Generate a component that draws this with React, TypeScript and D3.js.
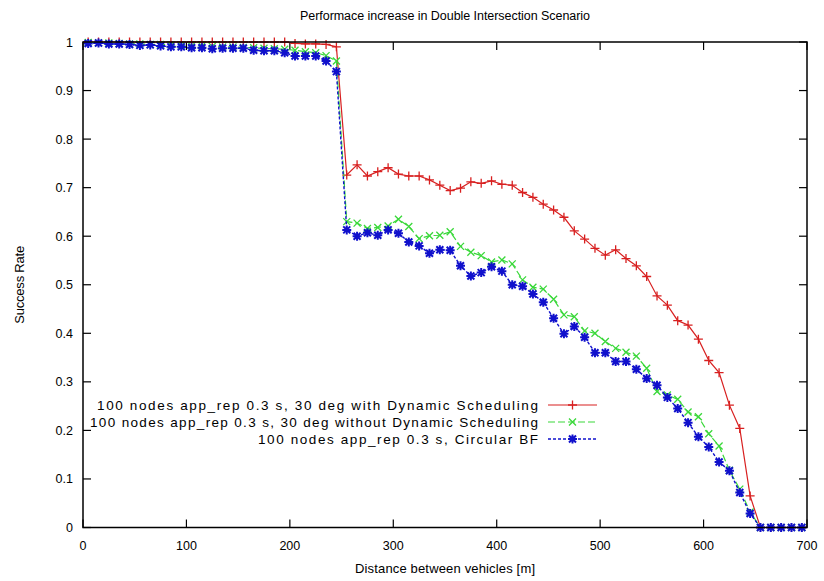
import React from "react";
import * as d3 from "d3";

const distance = [5,15,25,35,45,55,65,75,85,95,105,115,125,135,145,155,165,175,185,195,205,215,225,235,245,255,265,275,285,295,305,315,325,335,345,355,365,375,385,395,405,415,425,435,445,455,465,475,485,495,505,515,525,535,545,555,565,575,585,595,605,615,625,635,645,655,665,675,685,695];

const withDynamic = [1,1,1,1,1,1,1,1,1,1,1,1,1,1,1,1,1,1,1,1,0.997,0.996,0.996,0.995,0.99,
0.726,0.747,0.724,0.733,0.741,0.728,0.724,0.724,0.716,0.705,
0.694,0.699,0.712,0.709,0.714,0.707,0.705,0.69,0.68,0.666,
0.654,0.639,0.611,0.594,0.575,0.561,0.572,0.554,0.539,0.517,
0.477,0.458,0.426,0.417,0.388,0.344,0.319,0.252,0.204,0.065,
0,0,0,0,0];

const withoutDynamic = [0.999,0.998,0.998,0.997,0.996,0.996,0.995,0.995,0.994,0.993,0.992,0.992,0.991,0.99,0.99,0.989,0.988,0.987,0.986,0.985,0.983,0.98,0.978,0.972,0.961,
0.63,0.627,0.616,0.618,0.621,0.635,0.62,0.595,0.601,0.602,
0.609,0.579,0.567,0.56,0.547,0.551,0.543,0.51,0.495,0.491,
0.47,0.438,0.434,0.405,0.4,0.383,0.369,0.361,0.353,0.328,
0.28,0.273,0.264,0.238,0.228,0.193,0.168,0.118,0.079,0.032,
0,0,0,0,0];

const circularBF = [0.997,0.998,0.996,0.996,0.995,0.993,0.994,0.992,0.99,0.99,0.988,0.988,0.986,0.987,0.987,0.987,0.983,0.982,0.982,0.978,0.971,0.971,0.971,0.961,0.939,
0.613,0.6,0.607,0.602,0.613,0.606,0.588,0.58,0.565,0.572,
0.571,0.539,0.518,0.525,0.537,0.528,0.5,0.497,0.481,0.464,
0.431,0.399,0.414,0.392,0.36,0.36,0.342,0.342,0.326,0.307,
0.293,0.268,0.245,0.216,0.187,0.166,0.135,0.117,0.072,0.029,
0,0,0,0,0];

const xTicks = [0,100,200,300,400,500,600,700];
const yTicks = [0,0.1,0.2,0.3,0.4,0.5,0.6,0.7,0.8,0.9,1];
const yTickLabels = ["0","0.1","0.2","0.3","0.4","0.5","0.6","0.7","0.8","0.9","1"];

const seriesNames = [
  "100 nodes app_rep 0.3 s, 30 deg with Dynamic Scheduling",
  "100 nodes app_rep 0.3 s, 30 deg without Dynamic Scheduling",
  "100 nodes app_rep 0.3 s, Circular BF",
];

const W = 824, H = 581;
const L = 83, R = 807, T = 42, B = 527.5;
const FONT = "'Liberation Sans', Arial, Helvetica, sans-serif";

const plusPath = "M-4.5,0H4.5M0,-4.5V4.5";
const crossPath = "M-3.5,-3.5L3.5,3.5M-3.5,3.5L3.5,-3.5";
const starPath = "M-4.5,0H4.5M0,-4.5V4.5M-3.5,-3.5L3.5,3.5M-3.5,3.5L3.5,-3.5";

const styles = [
  { color: "#d82020", dash: "none", width: 1.2, marker: plusPath, mw: 1.3, data: withDynamic, textLen: 441 },
  { color: "#3ad83a", dash: "7,3", width: 1.2, marker: crossPath, mw: 1.3, data: withoutDynamic, textLen: 448 },
  { color: "#1010cc", dash: "3,2", width: 1.4, marker: starPath, mw: 2.0, data: circularBF, textLen: 280 },
];

export default function App() {
  const x = d3.scaleLinear().domain([0, 700]).range([L, R]);
  const y = d3.scaleLinear().domain([0, 1]).range([B, T]);
  const line = d3.line<number>().x((_, i) => x(distance[i])).y((d) => y(d));
  const tick = 8;
  const legendY = [405, 422, 439];
  const legendTextX = 538;
  const legX0 = 548, legX1 = 597;

  return (
    <svg width={W} height={H} style={{ position: "absolute", left: 0, top: 0, background: "#fff" }} fontFamily={FONT}>
      <rect x={0} y={0} width={W} height={H} fill="#fff" />
      <text x={(L + R) / 2} y={20} textAnchor="middle" fontSize={12.5} fill="#000" textLength={290} lengthAdjust="spacing">
        Performace increase in Double Intersection Scenario
      </text>
      {xTicks.map((t) => (
        <g key={"x" + t}>
          <line x1={x(t)} x2={x(t)} y1={B} y2={B - tick} stroke="#000" strokeWidth={1.2} />
          <line x1={x(t)} x2={x(t)} y1={T} y2={T + tick} stroke="#000" strokeWidth={1.2} />
          <text x={x(t)} y={550} textAnchor="middle" fontSize={12.5} fill="#000">{t}</text>
        </g>
      ))}
      {yTicks.map((t, i) => (
        <g key={"y" + t}>
          <line x1={L} x2={L + tick} y1={y(t)} y2={y(t)} stroke="#000" strokeWidth={1.2} />
          <line x1={R} x2={R - tick} y1={y(t)} y2={y(t)} stroke="#000" strokeWidth={1.2} />
          <text x={73} y={y(t) + 4.5} textAnchor="end" fontSize={12.5} fill="#000">{yTickLabels[i]}</text>
        </g>
      ))}
      <text x={445} y={573} textAnchor="middle" fontSize={13} fill="#000" textLength={180} lengthAdjust="spacing">Distance between vehicles [m]</text>
      <text transform={`translate(24,${(T + B) / 2}) rotate(-90)`} textAnchor="middle" fontSize={13} fill="#000" textLength={78} lengthAdjust="spacing">Success Rate</text>
      {styles.map((s, si) => (
        <g key={"s" + si}>
          <path d={line(s.data) || ""} fill="none" stroke={s.color} strokeWidth={s.width} strokeDasharray={s.dash} />
          {s.data.map((v, i) => (
            <path key={i} d={s.marker} transform={`translate(${x(distance[i])},${y(v)})`} fill="none" stroke={s.color} strokeWidth={s.mw} />
          ))}
        </g>
      ))}
      {styles.map((s, si) => (
        <g key={"l" + si}>
          <text x={legendTextX} y={legendY[si] + 4.5} textAnchor="end" fontSize={13.5} fill="#000" textLength={s.textLen} lengthAdjust="spacing">{seriesNames[si]}</text>
          <line x1={legX0} x2={legX1} y1={legendY[si]} y2={legendY[si]} stroke={s.color} strokeWidth={s.width} strokeDasharray={s.dash} />
          <path d={s.marker} transform={`translate(${(legX0 + legX1) / 2},${legendY[si]})`} fill="none" stroke={s.color} strokeWidth={s.mw} />
        </g>
      ))}
      <rect x={L} y={T} width={R - L} height={B - T} fill="none" stroke="#000" strokeWidth={1.5} />
    </svg>
  );
}
